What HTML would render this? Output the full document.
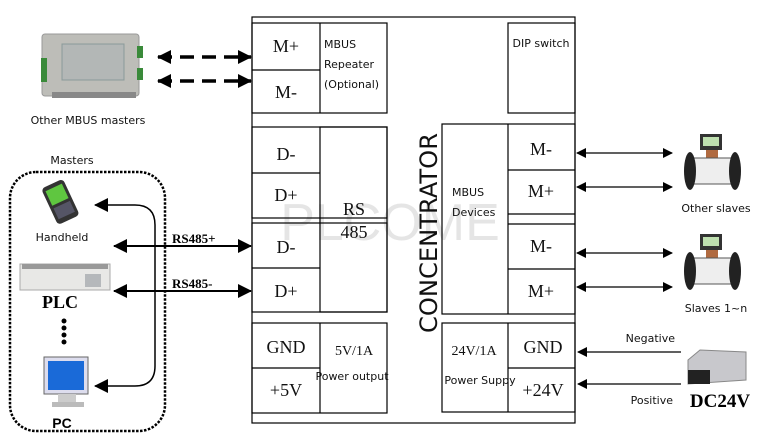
<!DOCTYPE html>
<html><head><meta charset="utf-8"><style>
html,body{margin:0;padding:0;background:#fff;width:784px;height:448px;overflow:hidden}
svg{display:block}
.s{font-family:"Liberation Serif",serif;font-size:18px;fill:#111}
.a{font-family:"DejaVu Sans","Liberation Sans",sans-serif;font-size:11px;fill:#111}
.b{stroke:#000;stroke-width:1.2;fill:none}
</style></head><body>
<svg width="784" height="448" viewBox="0 0 784 448" xmlns="http://www.w3.org/2000/svg">
<defs>
<marker id="ah" markerWidth="10" markerHeight="10" refX="9" refY="5" orient="auto-start-reverse" markerUnits="userSpaceOnUse">
<path d="M0,0 L10,5 L0,10 Z" fill="#000"/></marker>
<marker id="ahb" markerWidth="14" markerHeight="14" refX="13" refY="7" orient="auto-start-reverse" markerUnits="userSpaceOnUse">
<path d="M0,0 L14,7 L0,14 Z" fill="#000"/></marker>
</defs>
<rect x="252" y="17" width="323" height="406" class="b"/>
<rect x="252" y="23" width="135" height="90" class="b"/>
<line x1="320" y1="23" x2="320" y2="113" class="b"/>
<line x1="252" y1="70" x2="320" y2="70" class="b"/>
<text x="286" y="52" class="s" text-anchor="middle">M+</text>
<text x="286" y="98" class="s" text-anchor="middle">M-</text>
<text x="324" y="48" class="a">MBUS</text>
<text x="324" y="68" class="a">Repeater</text>
<text x="324" y="88" class="a">(Optional)</text>
<rect x="508" y="23" width="67" height="90" class="b"/>
<text x="541" y="47" class="a" text-anchor="middle">DIP switch</text>
<rect x="252" y="127" width="135" height="91" class="b"/>
<rect x="252" y="223" width="135" height="89" class="b"/>
<line x1="252" y1="173" x2="320" y2="173" class="b"/>
<line x1="252" y1="268" x2="320" y2="268" class="b"/>
<rect x="320" y="127" width="67" height="185" fill="#fff" class="b"/>
<text x="286" y="160" class="s" text-anchor="middle">D-</text>
<text x="286" y="201" class="s" text-anchor="middle">D+</text>
<text x="286" y="253" class="s" text-anchor="middle">D-</text>
<text x="286" y="297" class="s" text-anchor="middle">D+</text>
<text x="354" y="215" class="s" text-anchor="middle">RS</text>
<text x="354" y="238" class="s" text-anchor="middle">485</text>
<rect x="252" y="323" width="135" height="90" class="b"/>
<line x1="320" y1="323" x2="320" y2="413" class="b"/>
<line x1="252" y1="368" x2="320" y2="368" class="b"/>
<text x="286" y="353" class="s" text-anchor="middle">GND</text>
<text x="286" y="396" class="s" text-anchor="middle">+5V</text>
<text x="354" y="355" class="s" font-size="14" text-anchor="middle" style="font-size:14px">5V/1A</text>
<text x="352" y="380" class="a" text-anchor="middle">Power output</text>
<rect x="442" y="124" width="133" height="190" class="b"/>
<line x1="508" y1="124" x2="508" y2="314" class="b"/>
<line x1="508" y1="170" x2="575" y2="170" class="b"/>
<line x1="508" y1="214" x2="575" y2="214" class="b"/>
<line x1="508" y1="224" x2="575" y2="224" class="b"/>
<line x1="508" y1="269" x2="575" y2="269" class="b"/>
<text x="541" y="155" class="s" text-anchor="middle">M-</text>
<text x="541" y="197" class="s" text-anchor="middle">M+</text>
<text x="541" y="252" class="s" text-anchor="middle">M-</text>
<text x="541" y="297" class="s" text-anchor="middle">M+</text>
<text x="452" y="196" class="a">MBUS</text>
<text x="452" y="216" class="a">Devices</text>
<rect x="442" y="323" width="133" height="89" class="b"/>
<line x1="508" y1="323" x2="508" y2="412" class="b"/>
<line x1="508" y1="368" x2="575" y2="368" class="b"/>
<text x="474" y="355" class="s" text-anchor="middle" style="font-size:14px">24V/1A</text>
<text x="480" y="384" class="a" text-anchor="middle">Power Suppy</text>
<text x="543" y="353" class="s" text-anchor="middle">GND</text>
<text x="543" y="396" class="s" text-anchor="middle">+24V</text>
<text transform="translate(437,233) rotate(-90)" text-anchor="middle" font-family="'DejaVu Sans','Liberation Sans',sans-serif" font-size="24" fill="#111" textLength="200" lengthAdjust="spacingAndGlyphs">CONCENTRATOR</text>
<text x="390" y="240" text-anchor="middle" font-family="'Liberation Sans',sans-serif" font-size="52" fill="#000" fill-opacity="0.1">PLCOME</text>
<line x1="158" y1="57" x2="251" y2="57" stroke="#000" stroke-width="3.5" stroke-dasharray="14,8" marker-start="url(#ahb)" marker-end="url(#ahb)"/>
<line x1="158" y1="81" x2="251" y2="81" stroke="#000" stroke-width="3.5" stroke-dasharray="14,8" marker-start="url(#ahb)" marker-end="url(#ahb)"/>
<rect x="42" y="34" width="97" height="62" rx="3" fill="#bdbdb8" stroke="#999"/>
<rect x="62" y="44" width="62" height="36" fill="#b3b7b6" stroke="#8a9a9a"/>
<rect x="41" y="58" width="6" height="24" fill="#3a8a3a"/>
<rect x="137" y="46" width="6" height="12" fill="#3a8a3a"/>
<rect x="137" y="68" width="6" height="12" fill="#3a8a3a"/>
<rect x="52" y="92" width="84" height="6" fill="#888"/>
<text x="88" y="124" class="a" text-anchor="middle">Other MBUS masters</text>
<text x="72" y="164" class="a" text-anchor="middle">Masters</text>
<rect x="10" y="172" width="155" height="259" rx="26" fill="none" stroke="#000" stroke-width="2.5" stroke-dasharray="2.5,1.5"/>
<g transform="translate(60,201) rotate(-25)">
<rect x="-12" y="-19" width="24" height="40" rx="4" fill="#333"/>
<rect x="-9" y="-15" width="18" height="16" fill="#5fc640"/>
<rect x="-9" y="4" width="18" height="12" fill="#556"/>
</g>
<text x="62" y="241" class="a" text-anchor="middle">Handheld</text>
<rect x="20" y="264" width="90" height="26" fill="#e8e8e6" stroke="#aaa"/>
<rect x="22" y="264" width="86" height="5" fill="#999"/>
<rect x="85" y="274" width="16" height="13" fill="#b5b8bb"/>
<text x="60" y="308" font-family="'Liberation Serif',serif" font-weight="bold" font-size="18" text-anchor="middle">PLC</text>
<circle cx="64" cy="321" r="2.5" fill="#000"/><circle cx="64" cy="328" r="2.5" fill="#000"/><circle cx="64" cy="335" r="2.5" fill="#000"/><circle cx="64" cy="342" r="2.5" fill="#000"/>
<rect x="44" y="357" width="44" height="37" fill="#dde" stroke="#666"/>
<rect x="48" y="361" width="36" height="29" fill="#1a6ad8"/>
<rect x="58" y="394" width="18" height="8" fill="#ccc"/>
<rect x="52" y="402" width="32" height="5" fill="#bbb"/>
<text x="62" y="428" font-family="'Liberation Sans',sans-serif" font-weight="bold" font-size="14" text-anchor="middle">PC</text>
<path d="M95,205 L135,205 Q155,205 155,225 L155,366 Q155,386 135,386 L95,386" fill="none" stroke="#000" stroke-width="1.5" marker-start="url(#ahb)" marker-end="url(#ahb)"/>
<line x1="114" y1="246" x2="251" y2="246" stroke="#000" stroke-width="2" marker-start="url(#ahb)" marker-end="url(#ahb)"/>
<line x1="114" y1="291" x2="251" y2="291" stroke="#000" stroke-width="2" marker-start="url(#ahb)" marker-end="url(#ahb)"/>
<text x="172" y="243" font-family="'Liberation Serif',serif" font-weight="bold" font-size="13">RS485+</text>
<text x="172" y="288" font-family="'Liberation Serif',serif" font-weight="bold" font-size="13">RS485-</text>
<line x1="577" y1="153" x2="672" y2="153" stroke="#000" stroke-width="1.3" marker-start="url(#ah)" marker-end="url(#ah)"/>
<line x1="577" y1="187" x2="672" y2="187" stroke="#000" stroke-width="1.3" marker-start="url(#ah)" marker-end="url(#ah)"/>
<line x1="577" y1="253" x2="672" y2="253" stroke="#000" stroke-width="1.3" marker-start="url(#ah)" marker-end="url(#ah)"/>
<line x1="577" y1="287" x2="672" y2="287" stroke="#000" stroke-width="1.3" marker-start="url(#ah)" marker-end="url(#ah)"/>
<line x1="681" y1="352" x2="578" y2="352" stroke="#000" stroke-width="1.3" marker-end="url(#ah)"/>
<line x1="681" y1="384" x2="578" y2="384" stroke="#000" stroke-width="1.3" marker-end="url(#ah)"/>
<text x="675" y="342" class="a" text-anchor="end">Negative</text>
<text x="673" y="404" class="a" text-anchor="end">Positive</text>
<g id="m1">
<rect x="700" y="134" width="22" height="16" fill="#333"/><rect x="703" y="137" width="16" height="9" fill="#bfe0b0"/>
<rect x="706" y="150" width="12" height="8" fill="#b06a40"/>
<rect x="688" y="158" width="48" height="26" rx="4" fill="#eee" stroke="#555"/>
<ellipse cx="690" cy="171" rx="6" ry="19" fill="#222"/>
<ellipse cx="735" cy="171" rx="6" ry="19" fill="#222"/>
</g>
<use href="#m1" transform="translate(0,100)"/>
<text x="716" y="212" class="a" text-anchor="middle">Other slaves</text>
<text x="716" y="312" class="a" text-anchor="middle">Slaves 1~n</text>
<path d="M688,360 L700,350 L746,352 L746,380 L688,384 Z" fill="#c8c8cc" stroke="#888"/>
<rect x="688" y="370" width="22" height="14" fill="#222"/>
<text x="720" y="407" font-family="'Liberation Serif',serif" font-weight="bold" font-size="19" text-anchor="middle">DC24V</text>
</svg>
</body></html>
